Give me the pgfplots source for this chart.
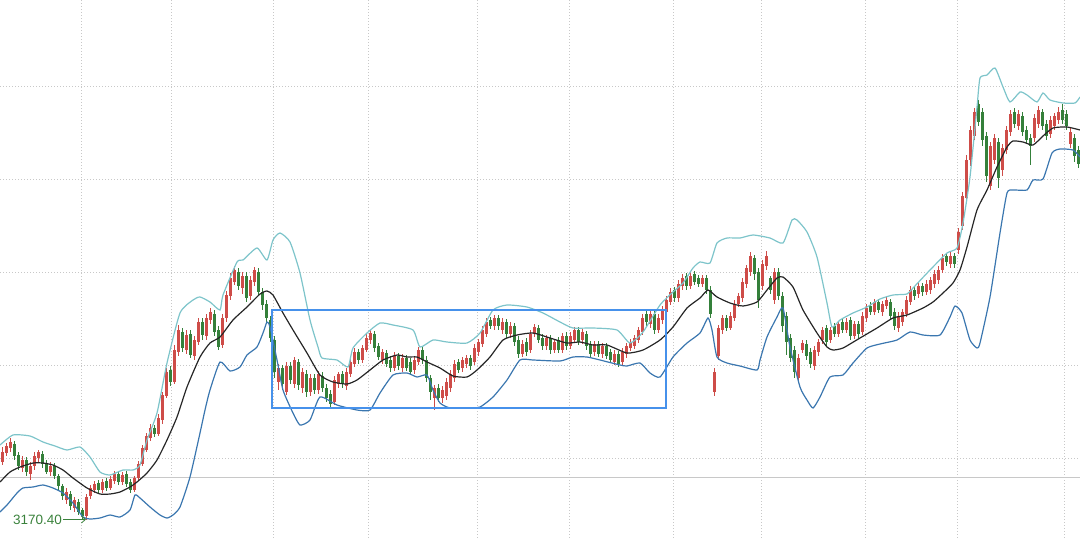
\documentclass[border=0pt]{standalone}
\usepackage{fontspec}
\setmainfont{Liberation Sans}
\usepackage{pgfplots}
\usepackage{pgfplotstable}
\pgfplotsset{compat=1.18}
\usetikzlibrary{arrows.meta}

\definecolor{cred}{RGB}{206,76,72}
\definecolor{cgreen}{RGB}{52,128,58}
\definecolor{cteal}{RGB}{125,196,202}
\definecolor{cblue}{RGB}{58,118,175}
\definecolor{cbox}{RGB}{70,145,235}
\definecolor{clabel}{RGB}{58,130,60}
\definecolor{cgrid}{RGB}{200,200,200}

% candles: x position, open, high, low, close (screen units, y grows downwards)
\pgfplotstableread{
x o h l c
2 462 447 465 452
6 453 443 456 446
10 448 438 452 442
22 468 456 472 460
30 474 462 480 466
34 466 452 470 456
38 458 450 462 452
50 472 462 476 466
66 500 488 504 492
74 508 497 512 500
86 516 494 520 497
90 496 485 499 488
94 490 481 493 484
102 490 479 493 482
110 488 476 490 479
114 481 471 484 474
122 482 472 485 475
134 490 476 492 478
138 478 461 480 464
142 464 445 466 448
146 450 433 452 436
150 438 424 441 428
158 434 414 436 418
162 420 392 424 395
166 396 368 398 372
174 382 345 384 350
178 352 325 356 330
186 350 330 354 335
194 356 336 360 340
198 342 318 345 322
206 336 314 340 318
210 320 308 324 312
222 345 314 348 318
226 318 291 322 295
230 296 273 300 278
234 282 266 285 270
242 288 272 294 276
250 296 276 300 280
254 282 267 286 270
278 382 364 390 368
286 392 362 395 366
294 384 357 388 360
302 388 368 393 372
310 392 374 396 378
318 390 371 394 374
334 402 376 405 380
338 384 372 388 374
346 386 368 390 372
350 374 358 377 362
354 364 348 367 352
362 360 345 363 348
366 350 334 352 338
370 340 330 344 333
382 360 349 364 352
394 368 352 371 356
402 368 354 372 358
414 370 356 374 360
418 362 347 365 350
434 398 385 410 388
442 398 386 403 390
446 396 378 400 382
450 388 370 392 374
454 378 360 382 364
462 368 357 372 360
466 364 355 368 358
474 362 344 365 348
478 352 339 356 342
482 344 326 347 330
486 334 318 337 322
494 326 315 330 318
502 330 318 334 322
510 334 322 338 326
522 354 340 357 344
530 350 330 353 334
534 334 324 337 327
546 346 335 350 338
554 350 339 353 342
562 350 333 353 336
570 346 332 349 336
574 340 327 343 330
582 340 329 344 332
594 352 341 356 344
602 354 343 358 346
614 362 350 365 354
622 362 348 365 352
626 354 343 358 346
630 348 339 351 342
634 346 335 349 338
638 340 327 343 330
642 332 314 335 318
650 324 311 328 314
658 330 314 333 318
662 320 306 324 310
666 312 296 316 300
670 302 288 305 292
678 298 280 302 284
682 286 274 290 278
690 286 272 289 276
702 284 275 287 278
714 392 368 396 372
718 356 325 360 328
722 330 315 334 318
730 328 312 330 316
734 318 300 321 304
738 304 293 307 296
742 298 278 302 282
746 284 265 288 268
750 272 252 276 256
762 286 260 290 264
766 266 251 270 256
774 300 268 304 272
798 378 354 382 358
802 350 340 353 343
814 366 346 370 350
818 352 339 356 342
822 340 327 344 330
830 340 327 343 330
838 334 321 337 324
846 330 318 333 322
854 336 321 339 324
862 332 312 335 316
866 318 304 322 308
874 312 299 315 302
882 312 301 316 304
886 306 297 309 300
898 328 312 332 316
902 322 309 326 312
906 314 296 317 300
910 302 286 305 290
918 294 283 298 286
926 292 280 295 284
930 290 277 294 280
934 284 270 288 274
938 280 266 284 270
942 270 254 273 258
950 264 252 268 256
958 250 228 254 232
962 226 192 230 196
966 198 155 202 160
970 160 126 166 130
974 136 108 140 112
990 186 142 190 146
994 160 134 164 138
1002 170 144 176 148
1006 150 126 154 130
1010 132 110 136 114
1018 126 110 130 114
1034 138 114 142 118
1038 124 106 128 110
1050 134 116 138 120
1054 126 113 130 116
1058 120 107 124 112
1070 144 128 148 132
}\upcandles

\pgfplotstableread{
x o h l c
14 444 441 460 456
18 455 452 470 466
26 460 457 476 472
42 454 451 468 464
46 463 460 474 472
54 466 463 479 476
58 476 474 490 486
62 486 484 500 496
70 494 491 510 506
78 502 499 515 512
82 510 508 519 516
98 483 480 493 490
106 481 478 491 488
118 474 472 485 482
126 474 471 487 484
130 482 479 493 490
154 428 425 437 434
170 370 366 386 382
182 332 328 352 348
190 334 330 358 355
202 322 318 340 335
214 314 310 336 332
218 330 326 350 347
238 272 268 290 286
246 276 272 302 298
258 272 268 296 292
262 292 288 310 305
266 304 300 322 318
270 320 316 342 338
274 340 336 378 372
282 368 365 390 384
290 366 362 384 380
298 362 359 390 385
306 374 370 397 392
314 378 374 394 390
322 376 372 392 388
326 388 384 402 398
330 394 390 408 404
342 374 371 388 384
358 352 349 364 360
374 334 331 352 348
378 346 343 360 357
386 353 350 367 364
390 360 356 372 368
398 356 353 370 366
406 358 355 371 368
410 362 358 375 372
422 350 346 364 360
426 360 356 382 378
430 378 375 400 392
438 388 384 402 398
458 362 359 373 370
470 358 355 370 366
490 320 317 329 326
498 318 315 330 326
506 322 319 338 334
514 326 323 346 342
518 340 336 358 354
526 342 338 356 352
538 328 325 343 340
542 338 334 350 346
550 338 335 354 350
558 340 337 353 350
566 336 332 350 346
578 330 327 345 342
586 334 331 350 346
590 344 341 357 354
598 344 341 357 354
606 346 343 359 356
610 352 349 363 360
618 354 351 367 364
646 314 311 326 322
654 314 311 334 330
674 290 287 302 298
686 276 273 290 286
694 274 271 285 282
698 278 275 287 284
706 278 275 294 290
710 290 286 318 314
726 318 315 331 328
754 258 255 280 274
758 272 268 308 300
770 278 276 294 290
778 272 268 300 296
782 296 292 332 326
786 316 312 355 342
790 338 334 362 358
794 350 346 378 372
806 344 340 360 356
810 352 348 368 364
826 328 325 346 342
834 326 323 337 334
842 322 319 333 330
850 320 317 340 336
858 324 321 338 334
870 306 302 315 312
878 302 299 313 310
890 302 299 320 316
894 312 308 330 326
914 290 286 300 296
922 286 283 296 292
946 256 253 266 262
954 256 253 268 264
978 104 100 126 122
982 112 108 146 140
986 136 132 182 176
998 142 138 188 178
1014 112 108 128 124
1022 116 112 136 132
1026 130 126 144 140
1030 138 134 165 146
1042 112 109 130 126
1046 124 120 140 136
1062 110 104 124 120
1066 114 110 130 126
1074 138 134 162 156
1078 150 146 168 164
}\downcandles

\begin{document}
\begin{tikzpicture}
\begin{axis}[
    width=1080pt, height=539pt, scale only axis,
    xmin=0, xmax=1080, ymin=0, ymax=539, y dir=reverse,
    axis line style={draw=none},
    xtick={81,171,273,368,477,569,673,761,865,957,1064},
    ytick={86,179,272,365,458},
    xticklabels={}, yticklabels={},
    major tick length=0pt,
    grid=major,
    major grid style={line width=1pt, dash pattern=on 1pt off 2pt, color=cgrid},
]

% solid reference line
\addplot[cgrid, line width=1pt, forget plot] coordinates {(0,477.5) (1080,477.5)};

% wicks and bodies
\addplot[draw=none, mark=none, forget plot, error bars/.cd, y dir=plus, y explicit, error mark=none,
    error bar style={draw=cred, line width=1pt}]
    table[x=x, y=h, y error plus expr=\thisrow{l}-\thisrow{h}] {\upcandles};
\addplot[draw=none, mark=none, forget plot, error bars/.cd, y dir=plus, y explicit, error mark=none,
    error bar style={draw=cred, line width=3pt}]
    table[x=x, y=c, y error plus expr=\thisrow{o}-\thisrow{c}] {\upcandles};
\addplot[draw=none, mark=none, forget plot, error bars/.cd, y dir=plus, y explicit, error mark=none,
    error bar style={draw=cgreen, line width=1pt}]
    table[x=x, y=h, y error plus expr=\thisrow{l}-\thisrow{h}] {\downcandles};
\addplot[draw=none, mark=none, forget plot, error bars/.cd, y dir=plus, y explicit, error mark=none,
    error bar style={draw=cgreen, line width=3pt}]
    table[x=x, y=o, y error plus expr=\thisrow{c}-\thisrow{o}] {\downcandles};

% upper band
\addplot[cteal, line width=1.2pt, smooth, tension=0.35] coordinates {
(0,445) (13,435) (30,436) (43,442) (55,446) (67,450) (80,447) (90,457) (100,472) (110,475)
(123,470) (133,470) (140,465) (147,440) (157,413) (167,363) (180,313) (193,300) (200,297)
(210,302) (220,310) (223,295) (237,262) (243,260) (257,248) (267,260) (273,240) (280,233)
(290,242) (300,273) (310,320) (318,347) (322,358) (337,360) (348,367) (353,348) (367,333)
(380,323) (393,325) (413,330) (420,347) (433,340) (447,342) (467,343) (480,333) (493,310)
(507,305) (527,307) (543,313) (560,322) (573,328) (593,328) (617,330) (630,343) (643,332)
(660,305) (673,292) (683,283) (693,268) (700,262) (710,263) (717,243) (727,238) (740,238)
(753,235) (770,238) (783,243) (792,220) (797,220) (807,232) (817,257) (827,303) (832,327)
(840,320) (853,313) (867,307) (880,299) (893,295) (907,294) (913,288) (930,270) (947,253)
(957,248) (963,223) (970,177) (977,107) (980,78) (987,75) (995,68) (1003,87) (1010,102)
(1020,92) (1027,95) (1037,102) (1043,93) (1050,100) (1063,103) (1075,103) (1080,97)
};
% lower band
\addplot[cblue, line width=1.2pt, smooth, tension=0.35] coordinates {
(0,512) (7,505) (17,493) (23,488) (33,487) (43,485) (53,488) (63,493) (73,503) (83,517)
(90,519) (100,518) (110,515) (120,517) (130,510) (135,495) (140,498) (150,507) (160,515)
(167,518) (173,515) (180,507) (190,477) (200,433) (205,410) (210,390) (220,362) (230,371)
(240,367) (247,355) (257,347) (263,333) (267,322) (270,327) (277,360) (283,390) (293,413)
(300,425) (310,420) (320,397) (337,405) (357,410) (370,410) (380,393) (393,375) (407,373)
(417,377) (427,375) (433,390) (440,403) (450,408) (467,408) (480,407) (493,397) (507,380)
(520,360) (533,360) (560,361) (573,357) (587,357) (600,360) (620,365) (627,366) (640,363)
(650,373) (660,377) (673,357) (687,343) (700,333) (708,318) (712,330) (717,357) (727,363)
(740,366) (757,370) (760,360) (767,337) (777,317) (783,308) (790,347) (800,387) (807,400)
(813,408) (820,397) (830,377) (843,375) (853,363) (867,348) (880,344) (897,340) (910,332)
(923,335) (940,335) (950,317) (955,306) (962,313) (970,340) (977,348) (980,343) (990,297)
(1000,233) (1007,193) (1013,190) (1027,190) (1033,180) (1043,179) (1052,153) (1060,149)
(1073,150) (1080,157)
};
% middle line
\addplot[black!85, line width=1.2pt, smooth, tension=0.35] coordinates {
(0,482) (10,472) (20,467) (33,463) (43,463) (53,465) (63,470) (73,478) (87,488) (100,494)
(110,494) (120,492) (130,487) (137,482) (147,473) (157,460) (167,440) (177,417) (187,387)
(200,357) (210,343) (220,337) (233,320) (247,307) (260,294) (267,291) (273,295) (283,313)
(293,330) (307,353) (320,375) (333,382) (347,384) (357,380) (370,370) (383,360) (397,355)
(407,357) (417,357) (427,362) (440,368) (453,376) (467,377) (477,370) (490,357) (503,340)
(517,335) (533,333) (550,338) (567,343) (580,342) (593,345) (607,345) (627,353) (643,350)
(660,340) (673,327) (687,308) (700,298) (708,290) (717,297) (730,303) (743,306) (757,302)
(767,290) (777,278) (783,277) (793,287) (803,310) (817,333) (827,347) (833,350) (843,348)
(860,338) (877,328) (893,318) (907,315) (923,308) (933,302) (943,293) (953,283) (960,270)
(967,247) (977,210) (987,190) (997,167) (1007,147) (1013,141) (1023,142) (1033,145)
(1043,136) (1053,128) (1067,127) (1080,130)
};

% consolidation box
\draw[cbox, line width=2.5pt] (axis cs:272,310) rectangle (axis cs:666,408);

% low marker
\node[anchor=east, inner sep=0pt, text=clabel, font=\fontsize{13.5}{15}\selectfont] at (axis cs:62,520) {3170.40};
\draw[clabel, line width=0.8pt, -{Straight Barb[length=4pt,width=7pt]}] (axis cs:63,519.5) -- (axis cs:86,519.5);
\end{axis}
\pgfresetboundingbox
\useasboundingbox (current axis.south west) rectangle (current axis.north east);
\end{tikzpicture}
\end{document}
